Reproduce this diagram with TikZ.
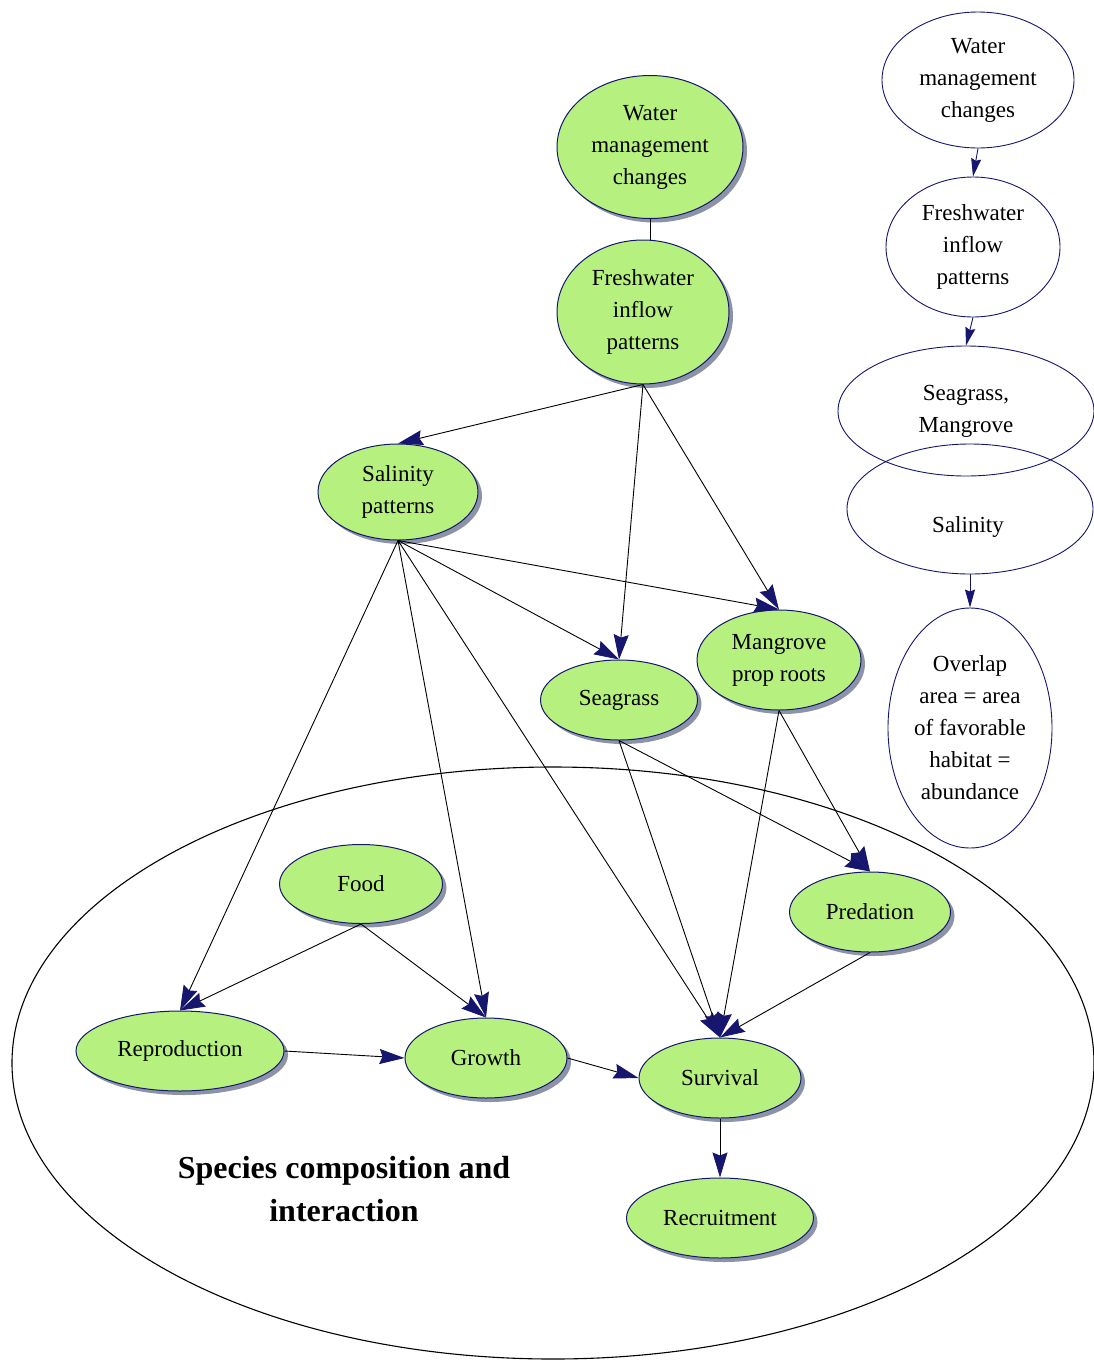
\documentclass[tikz,border=0pt]{standalone}
\usepackage{fontspec}
\setmainfont{Liberation Serif}
\usetikzlibrary{shapes.geometric,shadows,arrows.meta}
\definecolor{leaf}{RGB}{182,240,126}
\definecolor{navyline}{RGB}{22,22,110}
\definecolor{shade}{RGB}{112,120,148}
\begin{document}
\begin{tikzpicture}[x=1pt,y=-1pt,
      every node/.style={align=center, font=\fontsize{23}{32}\selectfont},
      green/.style={ellipse, draw=navyline, line width=1pt, fill=leaf, inner sep=0pt,
        drop shadow={shadow xshift=4pt, shadow yshift=-4pt, fill=shade, opacity=0.8}},
      plain/.style={ellipse, draw=navyline, line width=0.9pt, fill=white, inner sep=0pt},
      flow/.style={draw=black, line width=0.9pt, -{Stealth[length=25pt,width=15pt,inset=3pt,color=navyline]}},
      smallflow/.style={draw=navyline, line width=0.9pt, -{Stealth[length=18pt,width=10pt,inset=2pt,color=navyline]}}
    ]
    \useasboundingbox (0,0) rectangle (1094,1363);
    \fill[white] (0,0) rectangle (1094,1363);

    \draw[line width=1.1pt] (553,1063) ellipse (541 and 296);
    \node[font=\bfseries\fontsize{32}{43}\selectfont] (title) at (344,1189) {Species composition and\\interaction};

    \node[green, minimum width=186, minimum height=143] (WM) at (650,147) {Water\\management\\changes};
    \node[green, minimum width=172, minimum height=144] (FW) at (643,312) {Freshwater\\inflow\\patterns};
    \node[green, minimum width=160, minimum height=96] (SP) at (398,492) {Salinity\\patterns};
    \node[green, minimum width=157, minimum height=80] (SG) at (619,700) {Seagrass};
    \node[green, minimum width=164, minimum height=100] (MR) at (779,660) {Mangrove\\prop roots};
    \node[green, minimum width=163, minimum height=79] (FO) at (361,884) {Food};
    \node[green, minimum width=161, minimum height=80] (PR) at (870,912) {Predation};
    \node[green, minimum width=208, minimum height=80] (RE) at (180,1051) {Reproduction};
    \node[green, minimum width=162, minimum height=80] (GR) at (486,1058) {Growth};
    \node[green, minimum width=162, minimum height=80] (SU) at (720,1078) {Survival};
    \node[green, minimum width=187, minimum height=80] (RC) at (720,1218) {Recruitment};

    \node[plain, minimum width=192, minimum height=136] (RWM) at (978,80) {Water\\management\\changes};
    \node[plain, minimum width=174, minimum height=140] (RFW) at (973,247) {Freshwater\\inflow\\patterns};
    \node[plain, minimum width=256, minimum height=130] (RSM) at (966,411) {Seagrass,\\Mangrove};
    \node[plain, fill=none, minimum width=246, minimum height=130] (RSA) at (970,509) {};
    \node (RSAT) at (968,527) {Salinity};
    \node[plain, minimum width=164, minimum height=240] (ROV) at (970,728) {Overlap\\area = area\\of favorable\\habitat =\\abundance};

    \draw[line width=0.9pt] (WM.south) -- (WM.south |- FW.north);
    \draw[flow] (FW.south) -- (SP.north);
    \draw[flow] (FW.south) -- (SG.north);
    \draw[flow] (FW.south) -- (MR.north);
    \draw[flow] (SP.south) -- (RE.north);
    \draw[flow] (SP.south) -- (GR.north);
    \draw[flow] (SP.south) -- (SU.north);
    \draw[flow] (SP.south) -- (SG.north);
    \draw[flow] (SP.south) -- (MR.north);
    \draw[flow] (SG.south) -- (SU.north);
    \draw[flow] (SG.south) -- (PR.north);
    \draw[flow] (MR.south) -- (SU.north);
    \draw[flow] (MR.south) -- (PR.north);
    \draw[flow] (FO.south) -- (RE.north);
    \draw[flow] (FO.south) -- (GR.north);
    \draw[flow] (PR.south) -- (SU.north);
    \draw[flow] (RE.east) -- (GR.west);
    \draw[flow] (GR.east) -- (SU.west);
    \draw[flow] (SU.south) -- (RC.north);

    \draw[smallflow] (RWM.south) -- (RFW.north);
    \draw[smallflow] (RFW.south) -- (RSM.north);
    \draw[smallflow] (RSA.south) -- (ROV.north);
\end{tikzpicture}
\end{document}
